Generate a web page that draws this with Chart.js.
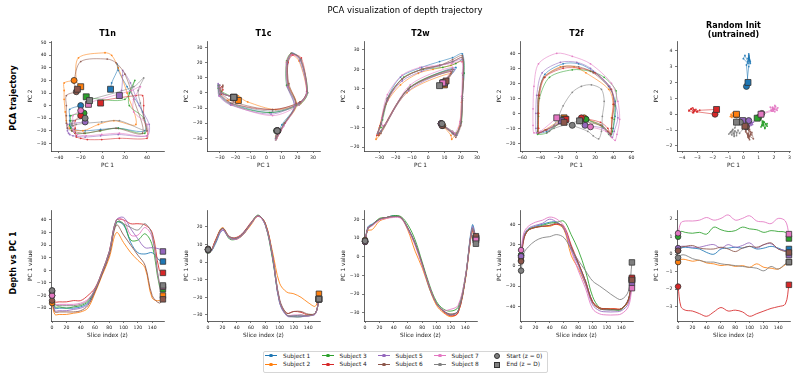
<!DOCTYPE html>
<html>
<head>
<meta charset="utf-8">
<script src="https://cdn.jsdelivr.net/npm/chart.js@4.4.0/dist/chart.umd.min.js"></script>
<style>
  body { margin: 0; background: #fff; }
  #fig { position: relative; width: 797px; height: 378px; overflow: hidden; font-family: "DejaVu Sans", sans-serif; color: #222; }
  .txt { position: absolute; white-space: nowrap; transform: translate(-50%, -50%); }
  .rot { transform: translate(-50%, -50%) rotate(-90deg); }
  canvas { position: absolute; }
</style>
</head>
<body>
<div id="fig"></div>
<script>
const FONT = '"DejaVu Sans", sans-serif';

// slice index z of each sample
const slices = [0, 4, 10, 20, 30, 40, 50, 60, 70, 80, 90, 100, 110, 120, 130, 140, 150, 155];
const subjects = ['Subject 1', 'Subject 2', 'Subject 3', 'Subject 4', 'Subject 5', 'Subject 6', 'Subject 7', 'Subject 8'];
const colors = ['#1f77b4', '#ff7f0e', '#2ca02c', '#d62728', '#9467bd', '#8c564b', '#e377c2', '#7f7f7f'];

// T1n
const t1nPC1 = [
  [-20, -30, -30, -30, -30, -29, -26, -16, -2, 14, 38, 36, 22, 14, 13, 14, 8, 7],
  [-26, -35, -35, -35, -34, -33, -30, -18, -4, 10, 30, 22, 14, 8, 2, -22, -24, -20],
  [-17, -29, -29, -30, -29, -28, -25, -16, -2, 14, 38, 37, 24, 24, 29, 20, -12, -15],
  [-20, -25, -25, -25, -24, -24, -20, -14, -1, 15, 40, 40, 37, 37, 36, 30, 0, -2],
  [-16, -32, -32, -32, -31, -30, -27, -16, -2, 14, 40, 42, 33, 25, 18, 18, 17, 15],
  [-24, -33, -33, -33, -33, -32, -28, -17, -3, 12, 36, 28, 20, 12, 4, -20, -26, -23],
  [-20, -27, -27, -27, -27, -26, -23, -15, -1, 15, 40, 40, 28, 28, 34, 26, -10, -13],
  [-16, -27, -28, -28, -28, -27, -24, -15, -1, 15, 40, 37, 34, 32, 37, 28, -10, -12]
];
const t1nPC2 = [
  [0, -3, -8, -12, -15, -17, -19, -20, -19, -18, -20, -5, 15, 28, 33, 30, 18, 13],
  [20, 18, 12, 5, -5, -12, -18, -20, -15, -12, -15, 10, 30, 40, 42, 38, 20, 15],
  [-6, -8, -12, -16, -18, -20, -22, -22, -20, -18, -22, -10, 0, 10, 20, 5, 6, 7],
  [-8, -12, -18, -22, -24, -25, -26, -27, -27, -26, -26, -20, -10, 0, 8, 8, 4, 2],
  [-13, -15, -18, -20, -22, -23, -24, -25, -24, -23, -24, -15, 0, 18, 28, 24, 12, 8],
  [11, 8, 0, -8, -14, -18, -20, -22, -20, -18, -22, 5, 25, 34, 37, 35, 18, 13],
  [-4, -8, -12, -16, -19, -21, -23, -24, -23, -22, -24, -15, -5, 5, 15, 12, 3, 1],
  [-10, -12, -14, -15, -16, -16, -15, -14, -13, -12, -20, -10, 2, 12, 22, 15, 5, 4]
];

// T1c
const t1cPC1 = [
  [7, 6, 10, 18, 14, 13.5, 17, 22, 26, 21, 3, -23, -30, -30.5, -30.5, -30.5, -29, -21],
  [7, 6, 12, 19.5, 14, 13, 16, 21, 26, 22, 6, -12, -17, -18, -20, -23, -25, -18],
  [6.5, 6, 11, 19, 13, 13, 16, 22, 26.5, 21, 2, -22, -30, -31, -31, -30, -29, -21],
  [7, 6.5, 12, 19, 14, 14, 17, 22.5, 26, 22, 4, -22, -29, -28, -28.5, -30, -29, -21],
  [7, 6, 11, 18, 13.5, 13, 16.5, 21.5, 26, 21, 3, -23, -30.5, -31, -31, -30.5, -29.5, -21],
  [7.5, 6.5, 11.5, 19, 14.5, 13.5, 16, 22, 26, 21.5, 4, -21, -29, -28, -28, -29.5, -29, -21],
  [7, 6, 11, 18.5, 14, 13, 16, 22, 26, 21, 4, -22, -30, -30, -30, -30.5, -29, -21],
  [7, 6, 11, 19, 14, 13.5, 16.5, 22, 26.5, 21.5, 4, -22, -30, -30.5, -30, -30.5, -29, -21]
];
const t1cPC2 = [
  [-25, -30, -21, -9, 4, 19, 26, 22, 1, -7, -13, -7, -1, 3, 5, 3, 0, -3],
  [-25, -29, -20, -8, 6, 20, 25, 21, 0, -7, -11, -6, -3, -2, -3, -4, -5, -5],
  [-25, -31, -21, -8, 5, 21, 26, 22, 0, -8, -13, -8, -2, 3, 5, 3, 1, -3],
  [-25, -30, -20, -7, 5, 20, 25, 23, 1, -6, -11, -7, -1, 2, 4, 3, 0, -3],
  [-25, -30, -22, -9, 4, 19, 26, 21, 0, -7, -14, -8, -2, 4, 6, 3, 0, -3],
  [-25, -30, -20, -8, 6, 21, 26, 22, 1, -6, -11, -6, 0, 4, 5, 3, 0, -3],
  [-25, -31, -22, -9, 4, 20, 25, 22, 0, -8, -15, -8, -2, 3, 5, 3, 0, -3],
  [-25, -30, -21, -8, 5, 20, 26, 22, 0, -7, -12, -7, -1, 3, 5, 3, 0, -3]
];

// T2w
const t2wPC1 = [
  [8, 16, 17.5, 20, 21, 22, 21, 15, 7, -4, -17, -25, -29, -31, -29, -12, 17, 10],
  [9, 14, 14.5, 19, 20.5, 21.5, 21, 14, 3, -6, -17, -26, -30, -32, -30, -13, 14, 10],
  [8, 15, 17, 20.5, 21, 22, 21.5, 17, 9, -3, -15, -24, -28, -29, -27, -11, 15, 9],
  [8, 15.5, 17, 20, 21, 21.5, 21, 15, 7, -4, -16, -25, -29.5, -31.5, -30, -12, 14, 10],
  [8, 15, 17, 20, 21, 21.5, 21, 15.5, 7.5, -4, -16, -25, -29, -31, -29, -12, 16, 10],
  [8.5, 15, 17, 20, 21, 21.5, 21, 15, 7, -4, -16, -25, -29, -30.5, -29, -12, 15, 11],
  [8, 15, 16.5, 19.5, 20.5, 21, 20.5, 14.5, 6, -5, -16, -25, -28.5, -28, -26, -11, 15, 9],
  [8.5, 15, 17, 20, 21, 21.5, 21, 15, 7, -4, -16, -25, -29, -31, -29, -12, 15, 7]
];
const t2wPC2 = [
  [-8, -13, -14, -7, 6, 18, 28, 26, 24, 21, 16, 5, -8, -13, -12, 10, 21, 13],
  [-9, -14, -16, -10, 3, 15, 24, 22, 20, 18, 12, 2, -10, -16, -14, 8, 18, 12],
  [-8, -12, -13, -7, 6, 18, 25, 23, 21, 20, 16, 6, -6, -10, -9, 11, 20, 13],
  [-8, -13, -14, -8, 5, 17, 26, 24, 22, 20, 15, 4, -9, -14, -13, 10, 19, 13],
  [-8, -13, -14, -8, 5, 16, 25, 24, 22, 19, 14, 4, -8, -13, -12, 9, 20, 13],
  [-9, -13, -15, -9, 4, 17, 27, 25, 22, 20, 15, 5, -8, -14, -13, 10, 20, 14],
  [-8, -12, -13, -7, 6, 18, 24, 23, 22, 21, 17, 7, -5, -9, -8, 12, 21, 13],
  [-8, -13, -14, -8, 5, 17, 26, 24, 22, 20, 15, 5, -8, -13, -12, 10, 19, 11.6]
];

// T2f
const t2fPC1 = [
  [10, 28, 35, 38, 40, 42, 42, 35, 18, 2, -15, -35, -42, -43, -43, -42, -33, -13],
  [8, 27, 34, 37, 38, 38, 40, 35, 10, -3, -18, -36, -42, -42, -42, -42, -35, -14],
  [10, 28, 35, 37, 39, 41, 42, 43, 30, 15, -5, -30, -41, -42, -43, -43, -33, -14],
  [5, 26, 34, 37, 38, 39, 40, 38, 20, 3, -15, -35, -41, -42, -42, -42, -33, -12],
  [9, 29, 36, 39, 41, 45, 42, 36, 15, 0, -18, -38, -44, -45, -45, -44, -37, -17],
  [4, 26, 34, 37, 38, 39, 41, 37, 18, 2, -15, -36, -42, -43, -43, -42, -34, -14],
  [15, 32, 38, 42, 44, 47, 45, 38, 15, -5, -22, -42, -47, -48, -48, -47, -40, -22],
  [-5, 12, 18, 24, 27, 28, 30, 27, 16, 5, -5, -15, -20, -25, -30, -33, -25, 3]
];
const t2fPC2 = [
  [-4, -8, -13, -14, -10, -2, 8, 18, 28, 33, 33, 26, 12, 0, -10, -13, -12, -4],
  [-3, -8, -12, -14, -10, -3, 6, 16, 27, 31, 31, 24, 12, 0, -10, -13, -11, -3],
  [-4, -9, -14, -15, -12, -4, 5, 15, 24, 28, 29, 24, 10, -2, -12, -14, -13, -4],
  [-3, -6, -10, -14, -10, -3, 6, 16, 27, 30, 30, 24, 12, 0, -10, -13, -11, -4],
  [-8, -10, -14, -16, -12, -3, 7, 18, 30, 34, 34, 27, 12, 0, -10, -13, -12, -5],
  [-5, -8, -12, -14, -10, -3, 6, 16, 27, 31, 31, 24, 12, 0, -10, -13, -11, -6],
  [-9, -12, -16, -18, -14, -4, 8, 20, 33, 38, 40, 33, 18, 3, -8, -13, -12, -3],
  [-8, -12, -15, -17, -12, -2, 8, 16, 19, 18, 14, 5, -2, -8, -12, -13, -10, -5]
];

// Random init (untrained)
const randPC1 = [
  [0.2, 0.35, 0.4, 0.35, 0.3, 0.1, 0.0, 0.3, 0.35, 0.4, 0.35, 0.45, 0.3, 0.35, 0.45, 0.35, 0.2, 0.3],
  [-0.45, -0.3, -0.3, -0.4, -0.35, -0.5, -0.55, -0.65, -0.6, -0.7, -0.65, -0.75, -0.55, -0.75, -0.8, -0.85, -0.6, -0.45],
  [1.0, 1.3, 1.25, 1.2, 1.25, 1.15, 1.55, 1.4, 1.3, 1.35, 1.55, 1.45, 1.4, 1.25, 1.35, 1.3, 1.25, 0.9],
  [-1.85, -3.0, -3.2, -3.25, -3.4, -3.55, -3.3, -3.05, -3.25, -3.2, -3.3, -3.55, -3.4, -3.25, -3.1, -3.0, -2.85, -1.75],
  [0.35, 0.45, 0.45, 0.4, 0.4, 0.5, 0.55, 0.35, 0.55, 0.4, 0.5, 0.65, 0.35, 0.55, 0.6, 0.3, 0.2, -0.05],
  [0.2, 0.4, 0.45, 0.5, 0.35, 0.3, 0.3, 0.4, 0.3, 0.15, 0.35, 0.45, 0.4, 0.55, 0.65, 0.3, 0.15, 0.1],
  [1.2, 1.8, 1.9, 1.9, 1.95, 2.1, 1.95, 2.05, 2.25, 1.95, 2.05, 2.2, 1.9, 1.85, 1.75, 2.05, 1.9, 1.15],
  [-0.2, -0.05, -0.05, -0.25, -0.35, -0.45, -0.45, -0.55, -0.6, -0.65, -0.7, -0.75, -0.8, -0.95, -0.7, -0.85, -0.55, -0.45]
];
const randPC2 = [
  [1.75, 3.0, 3.4, 3.6, 3.3, 3.7, 3.5, 3.2, 3.6, 3.4, 3.8, 3.3, 3.5, 3.7, 3.2, 3.5, 3.1, 2.0],
  [-0.05, -0.15, -0.05, 0.1, -0.1, 0.05, -0.15, 0.0, -0.1, 0.1, -0.05, -0.2, 0.05, -0.1, 0.0, -0.15, -0.05, 0.0],
  [-0.2, -0.45, -0.5, -0.7, -0.55, -0.8, -0.6, -0.9, -0.65, -0.5, -0.75, -0.6, -0.85, -0.7, -0.5, -0.65, -0.45, -0.25],
  [0.0, 0.15, 0.25, 0.1, 0.35, 0.2, 0.4, 0.15, 0.3, 0.2, 0.1, 0.25, 0.35, 0.15, 0.3, 0.2, 0.25, 0.3],
  [-0.4, -0.5, -0.45, -0.6, -0.5, -0.7, -0.55, -0.65, -0.5, -0.75, -0.6, -0.5, -0.7, -0.55, -0.65, -0.5, -0.45, -0.4],
  [-0.8, -0.95, -1.1, -1.3, -1.0, -1.45, -1.2, -1.6, -1.35, -1.1, -1.5, -1.25, -1.4, -1.15, -1.55, -1.3, -1.0, -0.75],
  [0.05, 0.25, 0.3, 0.45, 0.2, 0.5, 0.3, 0.15, 0.4, 0.35, 0.55, 0.25, 0.4, 0.2, 0.45, 0.3, 0.2, 0.0],
  [-0.5, -0.8, -0.95, -1.2, -1.0, -1.35, -1.15, -1.05, -1.4, -1.2, -1.0, -1.3, -1.1, -1.25, -0.95, -1.15, -0.85, -0.5]
];

// tick labels
const t1nTicksX = [-40, -20, 0, 20, 40];
const t1nTicksY = [-30, -20, -10, 0, 10, 20, 30, 40, 50];
const t1cTicksX = [-30, -20, -10, 0, 10, 20, 30];
const t1cTicksY = [-30, -20, -10, 0, 10, 20, 30];
const t2wTicksX = [-30, -20, -10, 0, 10, 20, 30];
const t2wTicksY = [-20, -10, 0, 10, 20, 30];
const t2fTicksX = [-60, -40, -20, 0, 20, 40, 60];
const t2fTicksY = [-20, -10, 0, 10, 20, 30, 40];
const randTicksX = [-4, -3, -2, -1, 0, 1, 2, 3];
const randTicksY = [-2, -1, 0, 1, 2, 3, 4];
const sliceTicks = [0, 20, 40, 60, 80, 100, 120, 140];
const t1nDepthTicks = [-30, -20, -10, 0, 10, 20, 30, 40];
const t1cDepthTicks = [-30, -20, -10, 0, 10, 20];
const t2wDepthTicks = [-30, -20, -10, 0, 10, 20];
const t2fDepthTicks = [-40, -20, 0, 20, 40];
const randDepthTicks = [-3, -2, -1, 0, 1, 2];

const panels = [
  { title: ['T1n'], pc1: t1nPC1, pc2: t1nPC2, xr: [-46.9, 55.4], yr: [-36.1, 51.35], tx: t1nTicksX, ty: t1nTicksY, dyr: [-40.2, 47.9], dty: t1nDepthTicks, tension: 0.3 },
  { title: ['T1c'], pc1: t1cPC1, pc2: t1cPC2, xr: [-38.2, 34.5], yr: [-38.3, 34.15], tx: t1cTicksX, ty: t1cTicksY, dyr: [-33.4, 29.45], dty: t1cDepthTicks, tension: 0.3 },
  { title: ['T2w'], pc1: t2wPC1, pc2: t2wPC2, xr: [-39.4, 30], yr: [-22.06, 34.6], tx: t2wTicksX, ty: t2wTicksY, dyr: [-34.3, 25], dty: t2wDepthTicks, tension: 0.3 },
  { title: ['T2f'], pc1: t2fPC1, pc2: t2fPC2, xr: [-62.3, 61.6], yr: [-25.1, 48.2], tx: t2fTicksX, ty: t2fTicksY, dyr: [-53.9, 53.9], dty: t2fDepthTicks, tension: 0.3 },
  { title: ['Random Init', '(untrained)'], pc1: randPC1, pc2: randPC2, xr: [-4.33, 3.04], yr: [-2.315, 4.61], tx: randTicksX, ty: randTicksY, dyr: [-3.82, 2.53], dty: randDepthTicks, tension: 0 }
];

const fig = document.getElementById('fig');
const lefts = [51, 207, 364, 520, 677];
const PW = 113;
const PL = 30, PT = 6, PR = 10, PB = 21;

function rgba(hex, a) {
  const n = parseInt(hex.slice(1), 16);
  return `rgba(${n >> 16},${(n >> 8) & 255},${n & 255},${a})`;
}
function fmt(v) {
  return v < 0 ? '\u2212' + (-v) : String(v);
}
function text(str, x, y, css, cls) {
  const d = document.createElement('div');
  d.className = 'txt' + (cls ? ' ' + cls : '');
  d.style.left = x + 'px';
  d.style.top = y + 'px';
  d.style.cssText += css;
  d.textContent = str;
  fig.appendChild(d);
  return d;
}

function axis(range, ticks, title, isX) {
  return {
    type: 'linear',
    min: range[0],
    max: range[1],
    afterBuildTicks: s => { s.ticks = ticks.map(v => ({ value: v })); },
    afterFit: s => { if (isX) s.height = PB; else s.width = PL; },
    ticks: { autoSkip: false, maxRotation: 0, font: { family: FONT, size: 4.6 }, color: '#222', padding: 2.5, callback: v => fmt(v) },
    grid: { display: true, drawOnChartArea: false, drawTicks: true, tickLength: 2, color: '#222', lineWidth: 0.6 },
    border: { display: true, color: '#222', width: 0.7 },
    title: { display: true, text: title, color: '#222', font: { family: FONT, size: 5.8 },
             padding: isX ? { top: 0, bottom: 2.8 } : { top: 6, bottom: 0 } }
  };
}

function makeChart(left, top, h, datasets, scales) {
  const c = document.createElement('canvas');
  c.width = PW + PL + PR;
  c.height = h + PT + PB;
  c.style.left = (left - PL) + 'px';
  c.style.top = (top - PT) + 'px';
  fig.appendChild(c);
  new Chart(c, {
    type: 'scatter',
    data: { datasets },
    options: {
      responsive: false, animation: false, devicePixelRatio: 1,
      layout: { padding: { top: PT, right: PR, left: 0, bottom: 0 } },
      plugins: { legend: { display: false }, tooltip: { enabled: false } },
      scales
    }
  });
}

function markers(ds, i, first, last, rStart, rEnd) {
  ds.push({ data: [first], showLine: false, pointStyle: 'circle', pointRadius: rStart,
            pointBackgroundColor: colors[i], pointBorderColor: '#333', pointBorderWidth: 0.8, order: 20 - 2 * i, clip: false });
  ds.push({ data: [last], showLine: false, pointStyle: 'rect', pointRadius: rEnd,
            pointBackgroundColor: colors[i], pointBorderColor: '#333', pointBorderWidth: 0.8, order: 19 - 2 * i, clip: false });
}

panels.forEach((p, j) => {
  const L = lefts[j];
  const n = slices.length - 1;

  // top row: PCA trajectory
  const top = [];
  p.pc1.forEach((xs, i) => {
    const ys = p.pc2[i];
    top.push({ data: slices.map((z, k) => ({ x: xs[k], y: ys[k] })), showLine: true,
               borderColor: rgba(colors[i], 0.7), borderWidth: 0.8, tension: p.tension,
               pointRadius: 0.9, pointBackgroundColor: rgba(colors[i], 0.85), pointBorderWidth: 0,
               order: 100 - i, clip: false });
  });
  p.pc1.forEach((xs, i) => markers(top, i, { x: xs[0], y: p.pc2[i][0] }, { x: xs[n], y: p.pc2[i][n] }, 3, 4.2));
  makeChart(L, 41, 110, top, { x: axis(p.xr, p.tx, 'PC 1', true), y: axis(p.yr, p.ty, 'PC 2', false) });

  // bottom row: depth vs PC 1
  const bot = [];
  p.pc1.forEach((xs, i) => {
    bot.push({ data: slices.map((z, k) => ({ x: z, y: xs[k] })), showLine: true,
               borderColor: rgba(colors[i], 0.85), borderWidth: 1, tension: 0.35,
               pointRadius: 0, order: 100 - i, clip: false });
  });
  p.pc1.forEach((xs, i) => markers(bot, i, { x: slices[0], y: xs[0] }, { x: slices[n], y: xs[n] }, 2.8, 3.9));
  makeChart(L, 210, 111, bot, { x: axis([-1.5, 156.5], sliceTicks, 'Slice index (z)', true), y: axis(p.dyr, p.dty, 'PC 1 value', false) });

  // subplot title
  const cx = L + PW / 2;
  if (p.title.length === 1) {
    text(p.title[0], cx, 33, 'font-size:8px;font-weight:bold;color:#000;');
  } else {
    text(p.title[0], cx, 25, 'font-size:8px;font-weight:bold;color:#000;');
    text(p.title[1], cx, 34, 'font-size:8px;font-weight:bold;color:#000;');
  }
});

text('PCA visualization of depth trajectory', 405, 10, 'font-size:8.5px;color:#000;');
text('PCA trajectory', 13, 98, 'font-size:8px;font-weight:bold;color:#000;', 'rot');
text('Depth vs PC 1', 13, 263, 'font-size:8px;font-weight:bold;color:#000;', 'rot');

// legend
const lg = document.createElement('div');
lg.style.cssText = 'position:absolute;left:263px;top:351px;width:283px;height:20px;border:1px solid #d6d6d6;border-radius:2px;background:#fff;';
fig.appendChild(lg);
const colLine = [265, 322, 378, 434];
const colText = [283, 339.5, 395.5, 451.5];
const rowY = [355.7, 364.2];
function box(css) {
  const d = document.createElement('div');
  d.style.cssText = 'position:absolute;' + css;
  fig.appendChild(d);
}
subjects.forEach((s, i) => {
  const c = Math.floor(i / 2), r = i % 2;
  const y = rowY[r];
  box(`left:${colLine[c]}px;top:${y - 0.7}px;width:12px;height:1.4px;background:${colors[i]};`);
  box(`left:${colLine[c] + 4.3}px;top:${y - 1.7}px;width:3.4px;height:3.4px;border-radius:50%;background:${colors[i]};`);
  const t = text(s, 0, y, 'font-size:5.8px;transform:translate(0,-50%);');
  t.style.left = colText[c] + 'px';
});
box(`left:493.5px;top:${rowY[0] - 2.6}px;width:4px;height:4px;border-radius:50%;background:#808080;border:0.8px solid #333;`);
box(`left:493.5px;top:${rowY[1] - 2.6}px;width:4px;height:4px;background:#808080;border:0.8px solid #333;`);
const st = text('Start (z = 0)', 0, rowY[0], 'font-size:5.8px;transform:translate(0,-50%);');
st.style.left = '506.5px';
const en = text('End (z = D)', 0, rowY[1], 'font-size:5.8px;transform:translate(0,-50%);');
en.style.left = '506.5px';
</script>
</body>
</html>
